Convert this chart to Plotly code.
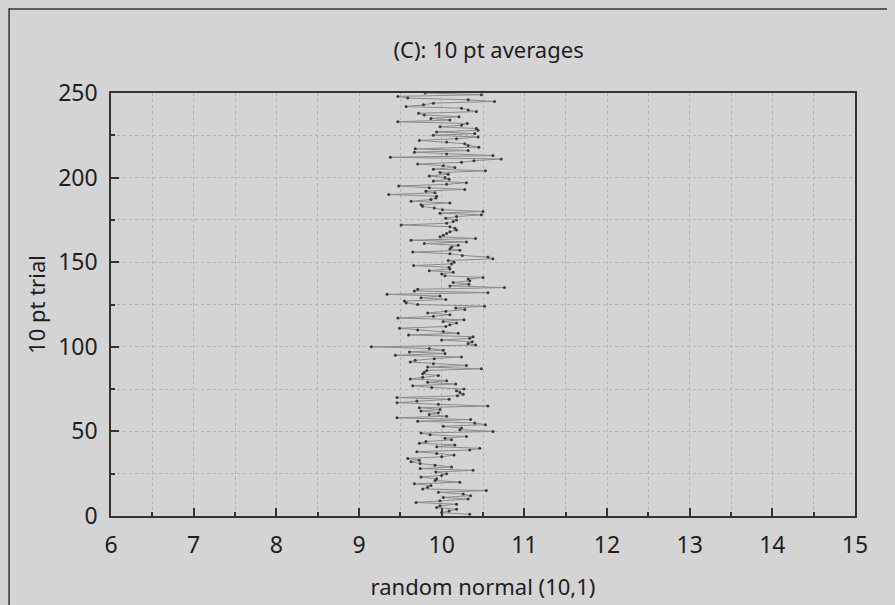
import plotly.graph_objects as go

# trial numbers (descending, 250 -> 1) and the 10-point averages
trial_numbers = list(range(250, 0, -1))
averages = [
    9.80, 10.48, 9.47, 9.59, 10.32, 10.64, 9.90, 9.78, 9.57, 10.24,
    10.32, 10.42, 9.72, 9.79, 10.21, 9.87, 10.10, 9.47, 10.31, 10.24,
    9.98, 10.42, 10.44, 9.94, 10.40, 9.90, 10.44, 10.18, 9.73, 10.06,
    10.28, 10.32, 10.45, 9.68, 10.32, 9.67, 10.06, 10.62, 9.38, 10.72,
    10.39, 10.24, 9.71, 10.02, 10.16, 9.90, 10.53, 9.98, 10.08, 9.85,
    10.04, 10.09, 9.90, 10.30, 10.06, 9.48, 9.85, 10.28, 9.81, 9.92,
    9.36, 9.94, 9.93, 9.87, 9.63, 10.10, 9.75, 9.77, 9.91, 10.01,
    10.50, 9.98, 10.48, 10.18, 10.05, 10.18, 10.14, 10.06, 9.51, 10.10,
    10.16, 10.18, 10.10, 10.06, 10.02, 9.98, 10.41, 9.63, 10.30, 9.79,
    10.20, 10.12, 10.10, 10.22, 9.65, 10.10, 10.25, 10.56, 10.62, 10.08,
    10.15, 10.12, 9.66, 10.09, 10.10, 9.85, 10.14, 10.00, 10.04, 10.50,
    10.32, 10.34, 10.14, 10.33, 10.10, 10.76, 9.71, 9.67, 10.56, 9.34,
    9.98, 9.75, 10.05, 9.55, 9.57, 9.71, 10.52, 10.17, 10.28, 10.05,
    9.83, 10.10, 9.90, 9.47, 10.27, 10.02, 10.18, 10.10, 10.05, 9.49,
    9.71, 10.02, 10.20, 9.60, 10.38, 10.34, 10.00, 10.37, 10.32, 10.41,
    9.15, 9.85, 10.02, 9.61, 10.04, 9.44, 10.24, 9.91, 9.68, 9.62,
    9.90, 10.30, 9.83, 10.48, 9.82, 9.79, 9.77, 9.96, 9.77, 9.62,
    10.06, 9.83, 10.17, 9.65, 9.88, 10.27, 10.18, 10.22, 10.26, 10.19,
    9.46, 10.09, 9.70, 9.46, 9.96, 10.56, 9.73, 9.98, 9.75, 9.96,
    9.85, 10.06, 9.46, 10.35, 9.71, 10.40, 10.53, 10.02, 10.24, 10.22,
    10.62, 9.75, 9.86, 10.30, 10.04, 10.12, 9.81, 9.73, 10.16, 9.94,
    10.46, 10.34, 9.70, 9.94, 10.15, 10.00, 9.59, 9.73, 9.63, 9.74,
    9.92, 10.12, 9.74, 10.38, 9.93, 10.06, 10.00, 9.75, 9.94, 9.92,
    10.22, 9.67, 9.87, 9.83, 9.77, 10.54, 9.96, 10.26, 10.35, 10.02,
    10.32, 9.98, 9.69, 10.18, 9.98, 9.94, 10.18, 10.09, 10.00, 10.34,
]

title_text = "(C): 10 pt averages"
x_title = "random normal (10,1)"
y_title = "10 pt trial"

BG = "#d4d4d4"
FONT = "Noto Sans"
TXT = "#1e1e1e"

fig = go.Figure()
fig.add_trace(go.Scatter(
    x=averages, y=trial_numbers, mode="lines+markers",
    line=dict(color="#8c8c8c", width=1),
    marker=dict(color="#3a3a3a", size=3),
    showlegend=False,
))

axis_common = dict(
    showline=True, linecolor="#333333", linewidth=1.5, mirror=True,
    ticks="inside", ticklen=8, tickwidth=1.5, tickcolor="#333333",
    showgrid=True, gridcolor="#b4b4b4", griddash="dot", gridwidth=1,
    zeroline=False,
    tickfont=dict(family=FONT, size=23, color=TXT),
)

fig.update_xaxes(
    range=[6, 15], tick0=6, dtick=1,
    minor=dict(dtick=0.5, ticks="inside", ticklen=4, tickcolor="#333333",
               showgrid=True, gridcolor="#b4b4b4", griddash="dot"),
    title=dict(text=x_title, font=dict(family=FONT, size=22, color=TXT), standoff=20),
    ticklabelstandoff=8,
    **axis_common,
)
fig.update_yaxes(
    range=[0, 250], tick0=0, dtick=50,
    minor=dict(dtick=25, ticks="inside", ticklen=4, tickcolor="#333333",
               showgrid=True, gridcolor="#b4b4b4", griddash="dot"),
    title=dict(text=y_title, font=dict(family=FONT, size=22, color=TXT), standoff=6),
    ticklabelstandoff=7,
    **axis_common,
)

fig.update_layout(
    width=895, height=605,
    paper_bgcolor=BG, plot_bgcolor=BG,
    margin=dict(l=103, r=48, t=85, b=97),
    title=dict(text=title_text, x=0.537, xanchor="center", y=0.9306, yanchor="middle",
               font=dict(family=FONT, size=22, color=TXT)),
    shapes=[dict(type="rect", xref="paper", yref="paper",
                 x0=-0.137, x1=1.051, y0=-0.4, y1=1.1986,
                 line=dict(color="#333333", width=1.5), layer="below")],
)

fig.write_html("out.html", post_script="document.body.style.background='#d4d4d4';")
